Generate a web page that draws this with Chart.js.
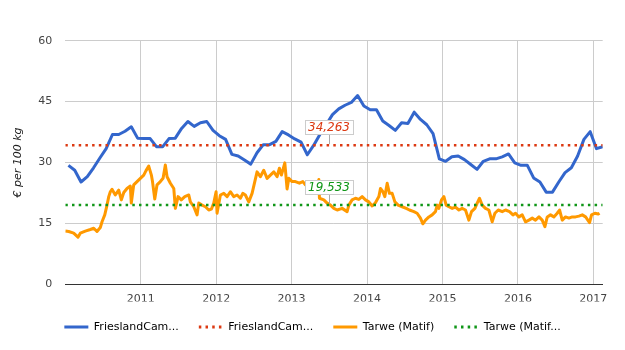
<!DOCTYPE html>
<html>
<head>
<meta charset="utf-8">
<script src="https://cdn.jsdelivr.net/npm/chart.js@4/dist/chart.umd.min.js"></script>
<style>
  html, body { margin: 0; padding: 0; background: #fff; }
  #wrap { width: 625px; height: 350px; }
</style>
</head>
<body>
<div id="wrap"><canvas id="chart"></canvas></div>
<script>
// ── data ───────────────────────────────────────────────
const legendLabels = ['FrieslandCam...', 'FrieslandCam...', 'Tarwe (Matif)', 'Tarwe (Matif...'];
const yearTicks = [2011, 2012, 2013, 2014, 2015, 2016, 2017];

// FrieslandCampina garantieprijs, monthly from Jan 2010 to Feb 2017
const milkStartYear = 2010;
const milkPrices = [
  29.3, 28.1, 25.2, 26.5, 28.7, 31.1, 33.4, 36.9, 36.9, 37.7, 38.8, 36.0,
  35.9, 35.9, 33.9, 33.9, 35.9, 36.0, 38.4, 40.1, 38.9, 39.8, 40.1, 37.9,
  36.6, 35.7, 32.0, 31.6, 30.6, 29.6, 32.4, 34.4, 34.4, 35.2, 37.6, 36.8,
  35.8, 35.0, 31.9, 34.2, 36.9, 39.3, 41.8, 43.2, 44.1, 44.8, 46.5, 43.9,
  43.0, 43.0, 40.2, 39.1, 37.9, 39.8, 39.6, 42.4, 40.6, 39.3, 37.1, 30.9,
  30.3, 31.4, 31.6, 30.7, 29.5, 28.3, 30.3, 30.9, 30.9, 31.4, 32.1, 29.9,
  29.3, 29.3, 26.2, 25.2, 22.7, 22.7, 25.2, 27.5, 28.7, 31.6, 35.7, 37.6,
  33.4, 33.9
];

// Tarwe (Matif)
const wheatYears = [
  2010.000, 2010.045, 2010.111, 2010.168, 2010.199, 2010.265, 2010.332, 2010.377, 2010.420, 2010.464, 2010.487, 2010.523, 2010.553, 2010.576, 2010.597, 2010.619, 2010.663, 2010.708, 2010.743, 2010.775, 2010.818, 2010.862, 2010.875, 2010.907, 2010.951, 2010.995,
  2011.040, 2011.070, 2011.106, 2011.141, 2011.156, 2011.186, 2011.216, 2011.260, 2011.296, 2011.326, 2011.349, 2011.393, 2011.438, 2011.459, 2011.495, 2011.538, 2011.584, 2011.637, 2011.658, 2011.703, 2011.747, 2011.769, 2011.813, 2011.857, 2011.902, 2011.936, 2011.968, 2011.999,
  2012.012, 2012.056, 2012.101, 2012.145, 2012.188, 2012.233, 2012.277, 2012.321, 2012.353, 2012.387, 2012.432, 2012.476, 2012.512, 2012.542, 2012.586, 2012.631, 2012.675, 2012.719, 2012.764, 2012.808, 2012.838, 2012.865, 2012.910, 2012.940, 2012.963,
  2013.007, 2013.050, 2013.103, 2013.149, 2013.183, 2013.219, 2013.272, 2013.321, 2013.361, 2013.369, 2013.427, 2013.471, 2013.515, 2013.560, 2013.604, 2013.670, 2013.736, 2013.759, 2013.802, 2013.846, 2013.891, 2013.935, 2013.979,
  2014.024, 2014.068, 2014.111, 2014.157, 2014.178, 2014.210, 2014.236, 2014.267, 2014.297, 2014.333, 2014.369, 2014.412, 2014.466, 2014.519, 2014.562, 2014.621, 2014.664, 2014.708, 2014.740, 2014.775, 2014.820, 2014.863, 2014.907, 2014.930, 2014.952, 2014.987,
  2015.019, 2015.049, 2015.085, 2015.129, 2015.172, 2015.218, 2015.261, 2015.305, 2015.350, 2015.385, 2015.430, 2015.460, 2015.491, 2015.526, 2015.570, 2015.615, 2015.659, 2015.695, 2015.739, 2015.792, 2015.836, 2015.889, 2015.934, 2015.968,
  2016.013, 2016.057, 2016.101, 2016.146, 2016.190, 2016.233, 2016.279, 2016.322, 2016.358, 2016.389, 2016.432, 2016.477, 2016.521, 2016.552, 2016.588, 2016.631, 2016.676, 2016.720, 2016.764, 2016.809, 2016.853, 2016.897, 2016.950, 2016.976, 2017.021, 2017.065, 2017.082
];
const wheatPrices = [
  13.1, 13.0, 12.6, 11.6, 12.6, 13.1, 13.5, 13.8, 13.0, 14.0, 15.4, 17.1, 19.5, 21.6, 22.8, 23.4, 22.0, 23.2, 20.8, 22.6, 23.6, 24.2, 20.0, 24.5, 25.3, 26.1,
  26.9, 28.0, 29.1, 26.9, 25.3, 21.0, 24.5, 25.3, 26.1, 29.4, 26.5, 24.9, 23.6, 18.7, 21.6, 20.8, 21.6, 22.0, 20.3, 19.1, 17.1, 20.0, 19.5, 19.1, 18.3, 18.5, 20.0, 22.8,
  17.5, 22.0, 22.4, 21.6, 22.8, 21.6, 22.0, 21.2, 22.4, 22.0, 20.3, 22.4, 25.3, 27.7, 26.5, 28.1, 26.1, 26.9, 27.7, 26.5, 28.6, 26.9, 29.9, 23.5, 26.1,
  25.3, 25.3, 24.9, 25.3, 24.5, 24.0, 23.5, 23.0, 25.8, 21.2, 20.8, 20.0, 19.5, 18.7, 18.3, 18.7, 17.9, 19.5, 20.8, 21.2, 20.9, 21.6, 20.8,
  20.3, 19.3, 20.1, 21.6, 23.6, 22.8, 21.6, 24.9, 22.4, 22.4, 20.3, 19.5, 19.1, 18.7, 18.3, 17.9, 17.5, 16.3, 14.9, 15.8, 16.6, 17.1, 17.9, 19.5, 18.7, 20.8,
  21.6, 19.5, 19.1, 18.7, 19.0, 18.3, 18.7, 18.3, 15.8, 17.9, 18.7, 20.0, 21.2, 19.5, 18.7, 18.3, 15.4, 17.5, 18.3, 17.9, 18.3, 17.9, 17.1, 17.5,
  16.6, 17.1, 15.4, 15.8, 16.3, 15.8, 16.6, 15.8, 14.2, 16.6, 17.1, 16.6, 17.5, 18.3, 15.8, 16.6, 16.3, 16.6, 16.6, 16.8, 17.1, 16.6, 15.2, 17.1, 17.5, 17.3, 17.5
];

// averages shown as dotted lines with a label
const milkAvg = 34.263;
const wheatAvg = 19.533;
const avgLabelYear = 2013.5;

// ── chart ──────────────────────────────────────────────
const FONT = "'DejaVu Sans', sans-serif";
const xMin = 2010, xMax = 2017.124;
const BLUE = '#3366cc', RED = '#dc3912', ORANGE = '#ff9900', GREEN = '#109618';

const milk = milkPrices.map((v, i) => ({ x: milkStartYear + (i + 0.5) / 12, y: v }));
const wheat = wheatYears.map((t, i) => ({ x: t, y: wheatPrices[i] }));
const flat = v => [{ x: xMin, y: v }, { x: xMax, y: v }];

// boxed value labels above the average lines
const avgLabels = {
  id: 'avgLabels',
  afterDatasetsDraw(chart) {
    const { ctx, scales: { x, y } } = chart;
    const items = [[milkAvg, RED], [wheatAvg, GREEN]];
    ctx.save();
    ctx.font = "italic 12px " + FONT;
    items.forEach(([v, col]) => {
      const lineY = y.getPixelForValue(v);
      const cx = Math.round(x.getPixelForValue(avgLabelYear));
      const txt = v.toFixed(3).replace('.', ',');
      const w = Math.round(ctx.measureText(txt).width + 6);
      const h = 14;
      const bx = Math.round(cx - w / 2) + 0.5;
      const by = Math.round(lineY - 11 - h) + 0.5;
      ctx.strokeStyle = '#aaa';
      ctx.lineWidth = 1;
      ctx.beginPath();
      ctx.moveTo(cx + 0.5, by + h);
      ctx.lineTo(cx + 0.5, lineY - 1);
      ctx.stroke();
      ctx.fillStyle = '#fff';
      ctx.fillRect(bx, by, w, h);
      ctx.strokeStyle = '#ccc';
      ctx.strokeRect(bx, by, w, h);
      ctx.fillStyle = col;
      ctx.textAlign = 'center';
      ctx.textBaseline = 'middle';
      ctx.fillText(txt, cx, by + h / 2 + 0.5);
    });
    ctx.restore();
  }
};

new Chart(document.getElementById('chart'), {
  type: 'line',
  data: {
    datasets: [
      { label: legendLabels[0], data: milk, borderColor: BLUE, borderWidth: 3, order: 3 },
      { label: legendLabels[1], data: flat(milkAvg), borderColor: RED, borderWidth: 2.5, borderDash: [2.5, 4.2], order: 2 },
      { label: legendLabels[2], data: wheat, borderColor: ORANGE, borderWidth: 3, order: 1 },
      { label: legendLabels[3], data: flat(wheatAvg), borderColor: GREEN, borderWidth: 2.5, borderDash: [2.5, 4.2], order: 0 }
    ]
  },
  options: {
    responsive: true, maintainAspectRatio: false, animation: false,
    parsing: false,
    elements: { point: { radius: 0 }, line: { tension: 0, fill: false, borderJoinStyle: 'round' } },
    layout: { padding: { top: 40.7, left: 0, right: 0, bottom: 7.5 } },
    plugins: {
      tooltip: { enabled: false },
      legend: {
        position: 'bottom',
        labels: {
          usePointStyle: true, pointStyleWidth: 24, boxHeight: 3, padding: 20,
          color: '#222', font: { family: FONT, size: 11 },
          generateLabels: chart => chart.data.datasets.map((d, i) => ({
            text: d.label, fillStyle: d.borderColor, strokeStyle: d.borderColor,
            lineWidth: 3, lineDash: d.borderDash || [], pointStyle: 'line',
            hidden: false, datasetIndex: i
          }))
        }
      }
    },
    scales: {
      x: {
        type: 'linear', min: xMin, max: xMax,
        afterBuildTicks: s => { s.ticks = yearTicks.map(v => ({ value: v })); },
        afterFit: s => { s.height = 17.2; },
        ticks: { autoSkip: false, maxRotation: 0, padding: 8, color: '#444', font: { family: FONT, size: 11 }, callback: v => String(v) },
        grid: { color: '#ccc', drawTicks: false },
        border: { display: true, color: '#333', width: 1 }
      },
      y: {
        min: 0, max: 60,
        afterFit: s => { s.width = 65.3; },
        ticks: { stepSize: 15, padding: 13, color: '#444', font: { family: FONT, size: 11 } },
        grid: { color: c => c.tick.value === 0 ? '#333' : '#ccc', drawTicks: false },
        border: { display: false },
        title: { display: true, text: '€ per 100 kg', color: '#222', font: { family: FONT, size: 11, style: 'italic' }, padding: { top: 11.4, bottom: 0 } }
      },
      yRight: {
        position: 'right', display: true,
        afterFit: s => { s.width = 22.3; },
        ticks: { display: false }, grid: { display: false }, border: { display: false }
      }
    }
  },
  plugins: [avgLabels]
});
</script>
</body>
</html>
